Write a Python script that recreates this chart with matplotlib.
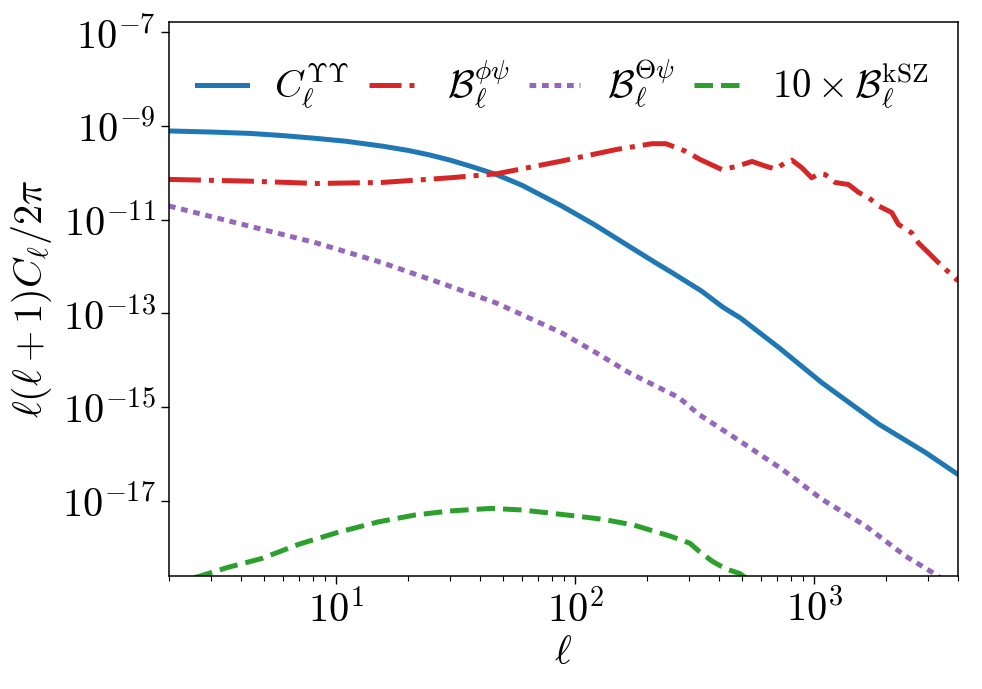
import math
import matplotlib
matplotlib.use("Agg")
import matplotlib.pyplot as plt
from matplotlib.ticker import FixedLocator, FuncFormatter, NullLocator, LogLocator

plt.rcParams['mathtext.fontset'] = 'cm'
plt.rcParams['font.family'] = 'serif'
plt.rcParams['font.serif'] = ['DejaVu Serif']

# C_ell^{Upsilon Upsilon}
ell_C = [2, 3, 4.4, 6, 8.3, 11, 15.6, 20, 24.6, 30, 37, 47, 60, 88, 120, 168, 217,
         254, 339, 411, 440, 492, 711, 1076, 1862, 2917, 4000]
val_C = [7.8e-10, 7.4e-10, 6.9e-10, 6.2e-10, 5.4e-10, 4.7e-10, 3.7e-10, 3.0e-10,
         2.4e-10, 1.86e-10, 1.35e-10, 9.1e-11, 5.4e-11, 1.95e-11, 7.9e-12, 2.7e-12,
         1.2e-12, 7.4e-13, 2.95e-13, 1.4e-13, 1.12e-13, 7.9e-14, 1.86e-14, 3.3e-15,
         4.3e-16, 1.07e-16, 3.6e-17]

# B^{phi psi}
ell_Bpp = [2, 4.4, 8.3, 15.6, 30, 47, 88, 150, 210, 240, 290, 334, 411, 470, 550,
           627, 689, 750, 807, 887, 977, 1050, 1114, 1225, 1393, 1535, 1690, 1862,
           2113, 2253, 2560, 2733, 3010, 3313, 4000]
val_Bpp = [7.2e-11, 6.6e-11, 5.9e-11, 6.2e-11, 7.8e-11, 9.5e-11, 1.78e-10, 3.16e-10,
           4.17e-10, 4.17e-10, 2.88e-10, 1.91e-10, 1.17e-10, 1.35e-10, 1.74e-10,
           1.38e-10, 1.20e-10, 1.58e-10, 1.86e-10, 1.29e-10, 7.8e-11, 9.5e-11,
           9.1e-11, 6.2e-11, 5.6e-11, 3.8e-11, 2.95e-11, 1.95e-11, 1.41e-11,
           7.9e-12, 5.2e-12, 3.16e-12, 1.95e-12, 1.20e-12, 4.9e-13]

# B^{Theta psi}
ell_Btp = [2, 4.36, 8.3, 15.6, 29.8, 46.7, 60, 88, 122, 168, 272, 330, 499, 733,
           1076, 1637, 2403, 3097, 4000]
val_Btp = [1.95e-11, 7.2e-12, 3.16e-12, 1.20e-12, 3.8e-13, 1.66e-13, 9.3e-14,
           3.8e-14, 1.45e-14, 5.4e-15, 1.58e-15, 6.9e-16, 1.74e-16, 4.7e-17,
           1.07e-17, 2.9e-18, 6.6e-19, 3.0e-19, 1.26e-19]

# 10 x B^{kSZ}
ell_kSZ = [2, 2.71, 3.5, 4.89, 7, 10.2, 15, 21.3, 30, 44.6, 60, 93, 130, 176, 250,
           302, 330, 374, 426, 490, 600]
val_kSZ = [1.6e-19, 2.45e-19, 3.7e-19, 5.8e-19, 1.17e-18, 2.1e-18, 3.5e-18, 4.9e-18,
           6.0e-18, 6.8e-18, 6.3e-18, 4.9e-18, 4.0e-18, 3.0e-18, 1.74e-18,
           1.23e-18, 8.3e-19, 5.1e-19, 3.5e-19, 2.75e-19, 1.26e-19]

labels = [r'$C_\ell^{\Upsilon\Upsilon}$', r'$\mathcal{B}_\ell^{\phi\psi}$',
          r'$\mathcal{B}_\ell^{\Theta\psi}$', r'$10\times\mathcal{B}_\ell^{\rm kSZ}$']
yticks_exp = [-17, -15, -13, -11, -9, -7]


def pow10_label(v, pos):
    return r'$10^{%d}$' % round(math.log10(v))


fig = plt.figure(figsize=(9.82, 6.89), dpi=100)
ax = fig.add_axes([0.172, 0.164, 0.8036, 0.804])

lw = 3.6
ax.plot(ell_C, val_C, color='#1f77b4', lw=lw, ls='-', label=labels[0])
ax.plot(ell_Bpp, val_Bpp, color='#d62728', lw=lw, ls='-.', label=labels[1])
ax.plot(ell_Btp, val_Btp, color='#9467bd', lw=lw, ls=(0, (1.35, 1.15)), label=labels[2])
ax.plot(ell_kSZ, val_kSZ, color='#2ca02c', lw=lw, ls='--', label=labels[3])

ax.set_xscale('log')
ax.set_yscale('log')
ax.set_xlim(2, 4000)
ax.set_ylim(2.45e-19, 1.65e-7)

ax.yaxis.set_major_locator(FixedLocator([10.0 ** e for e in yticks_exp]))
ax.yaxis.set_minor_locator(NullLocator())
ax.yaxis.set_major_formatter(FuncFormatter(pow10_label))
ax.xaxis.set_major_locator(LogLocator(base=10))
ax.xaxis.set_major_formatter(FuncFormatter(pow10_label))

ax.tick_params(axis='both', which='major', labelsize=29, length=6, width=1.0)
ax.tick_params(axis='x', which='minor', length=3.5, width=0.8)
for s in ax.spines.values():
    s.set_linewidth(1.1)

ax.set_xlabel(r'$\ell$', fontsize=29, labelpad=4)
ax.set_ylabel(r'$\ell(\ell+1)C_\ell/2\pi$', fontsize=29, labelpad=6)

ax.legend(loc='center', bbox_to_anchor=(0.4987, 0.888), ncol=4, frameon=False,
          fontsize=28, handlelength=1.3, handletextpad=0.7, columnspacing=0.5)

fig.savefig('out.png', dpi=100)
